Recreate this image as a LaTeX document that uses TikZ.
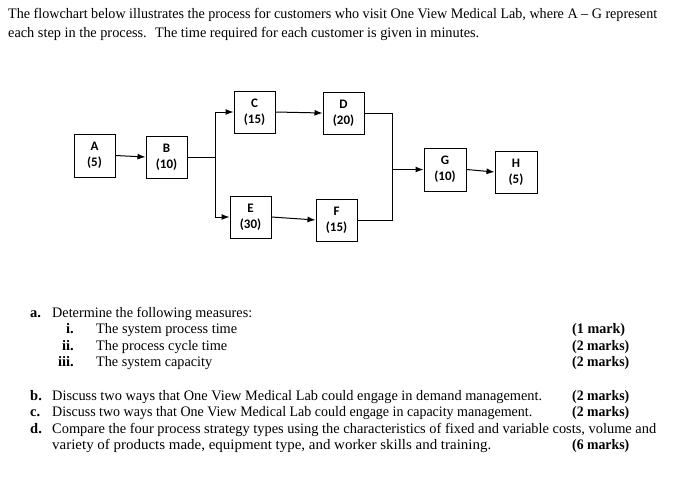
\documentclass[tikz,border=0pt]{standalone}
\usepackage{fontspec}
\usepackage{graphicx}
\setmainfont{Liberation Serif}
\newfontfamily\boxfont{Carlito}
\usetikzlibrary{arrows.meta}
\tikzset{
  stepbox/.style={draw=black, line width=1pt, minimum width=41pt, minimum height=42pt, inner sep=0pt, align=center, font=\boxfont\bfseries\fontsize{13}{16}\selectfont},
  conn/.style={line width=1pt, black},
  arr/.style={conn, -{Latex[length=8pt,width=6pt]}},
  txt/.style={anchor=base west, inner sep=0pt, font=\fontsize{14.5}{16}\selectfont},
  num/.style={anchor=base east, inner sep=0pt, font=\bfseries\fontsize{14.5}{16}\selectfont},
  lbl/.style={anchor=base west, inner sep=0pt, font=\bfseries\fontsize{14.5}{16}\selectfont},
}
\newcommand{\fitw}[2]{\resizebox{#1pt}{\height}{#2}}
\begin{document}
\begin{tikzpicture}[x=1pt,y=-1pt]
\useasboundingbox[fill=white] (0,0) rectangle (678,485);
% intro text
\node[txt] (t1) at (8,18.5) {\fitw{649}{The flowchart below illustrates the process for customers who visit One View Medical Lab, where A – G represent}};
\node[txt] (t2) at (8,37) {\fitw{471}{each step in the process.~ The time required for each customer is given in minutes.}};
% boxes
\node[stepbox, minimum height=43pt] (A) at (94.5,155.5) {A\\(5)};
\node[stepbox] (B) at (166.5,157) {B\\(10)};
\node[stepbox] (C) at (254.5,112) {C\\(15)};
\node[stepbox] (D) at (343.5,113) {D\\(20)};
\node[stepbox] (E) at (250.5,217) {E\\(30)};
\node[stepbox] (F) at (336.5,220) {F\\(15)};
\node[stepbox, minimum width=42pt, minimum height=43pt] (G) at (445,169.5) {G\\(10)};
\node[stepbox, minimum width=42pt] (H) at (516,172) {H\\(5)};
% connectors
\coordinate (sp) at (215,157);
\coordinate (sTop) at (C.west -| sp);
\coordinate (sBot) at (E.west -| sp);
\coordinate (mp) at (392,170);
\coordinate (mTop) at (D.east -| mp);
\coordinate (mBot) at (F.east -| mp);
\coordinate (mMid) at (G.west -| mp);
\draw[arr] (A.east) -- (B.west);
\draw[conn] (B.east) -- (sp);
\draw[conn] (sTop) -- (sBot);
\draw[arr] (sTop) -- (C.west);
\draw[arr] (sBot) -- (E.west);
\draw[arr] (C.east) -- (D.west);
\draw[arr] (E.east) -- (F.west);
\draw[conn] (D.east) -- (mTop) -- (mBot) -- (F.east);
\draw[arr] (mMid) -- (G.west);
\draw[arr] (G.east) -- (H.west);
% questions
\node[lbl] (la) at (30,317) {a.};
\node[txt] (qa) at (52,317) {\fitw{200}{Determine the following measures:}};
\node[num] (ni) at (74,333.5) {i.};
\node[txt] (qi) at (96,333.5) {\fitw{141}{The system process time}};
\node[lbl] (mi) at (572,333.5) {\fitw{53}{(1 mark)}};
\node[num] (nii) at (74,350) {ii.};
\node[txt] (qii) at (96,350) {\fitw{131}{The process cycle time}};
\node[lbl] (mii) at (572,350) {\fitw{57}{(2 marks)}};
\node[num] (niii) at (74,366.5) {iii.};
\node[txt] (qiii) at (96,366.5) {\fitw{116}{The system capacity}};
\node[lbl] (miii) at (572,366.5) {\fitw{57}{(2 marks)}};
\node[lbl] (lb) at (30,400) {b.};
\node[txt] (qb) at (52,400) {\fitw{490}{Discuss two ways that One View Medical Lab could engage in demand management.}};
\node[lbl] (mb) at (572,400) {\fitw{57}{(2 marks)}};
\node[lbl] (lc) at (30,416.5) {c.};
\node[txt] (qc) at (52,416.5) {\fitw{480}{Discuss two ways that One View Medical Lab could engage in capacity management.}};
\node[lbl] (mc) at (572,416.5) {\fitw{57}{(2 marks)}};
\node[lbl] (ld) at (30,433) {d.};
\node[txt] (qd) at (52,433) {\fitw{604}{Compare the four process strategy types using the characteristics of fixed and variable costs, volume and}};
\node[txt] (qd2) at (52,449.5) {\fitw{439}{variety of products made, equipment type, and worker skills and training.}};
\node[lbl] (md) at (572,449.5) {\fitw{57}{(6 marks)}};
\end{tikzpicture}
\end{document}
